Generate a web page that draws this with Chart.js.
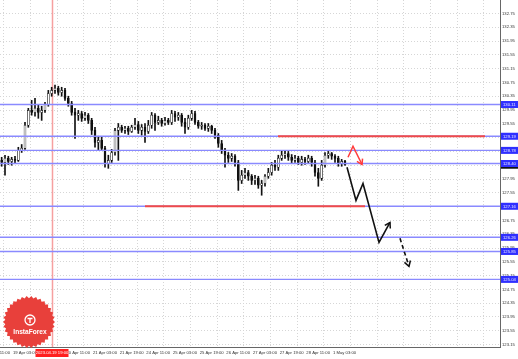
<!DOCTYPE html>
<html><head><meta charset="utf-8">
<script src="https://cdn.jsdelivr.net/npm/chart.js@4/dist/chart.umd.min.js"></script>
<style>html,body{margin:0;padding:0;background:#fff}canvas{display:block}</style>
</head><body><canvas id="c" width="518" height="359"></canvas>
<script>
// ---- data (2-hour candles) ----
const opens = [128.49,128.43,128.55,128.46,128.52,128.49,128.78,128.84,129.51,129.94,
129.88,130.00,129.88,129.94,130.11,130.43,130.52,130.58,130.46,130.52,
130.29,130.14,129.88,129.80,129.85,129.71,129.80,129.65,129.36,129.01,
129.07,128.84,128.40,128.49,128.72,129.36,129.45,129.36,129.42,129.33,
129.45,129.53,129.36,129.45,129.33,129.51,129.80,129.59,129.65,129.56,
129.65,129.59,129.85,129.74,129.80,129.59,129.45,129.71,129.85,129.59,
129.48,129.51,129.42,129.48,129.36,129.22,128.98,128.78,128.64,128.55,
128.61,128.43,127.91,128.06,128.14,128.03,127.91,127.97,127.77,127.82,
128.03,128.14,128.35,128.29,128.55,128.64,128.69,128.58,128.49,128.55,
128.43,128.52,128.46,128.55,128.43,128.14,127.97,128.35,128.64,128.69,
128.61,128.55,128.40,128.46];
const highs = [128.58,128.64,128.61,128.58,128.61,128.87,128.95,129.59,130.00,130.23,
130.29,130.11,130.06,130.17,130.52,130.61,130.67,130.64,130.61,130.58,
130.35,130.20,130.00,129.94,129.91,129.88,129.85,129.71,129.45,129.19,
129.16,128.90,128.64,128.81,129.42,129.56,129.51,129.48,129.48,129.51,
129.71,129.62,129.53,129.56,129.65,129.88,129.85,129.77,129.71,129.74,
129.71,129.94,129.91,129.88,129.85,129.71,129.80,129.94,129.91,129.65,
129.59,129.56,129.56,129.51,129.42,129.27,129.07,128.84,128.72,128.69,
128.66,128.49,128.20,128.26,128.20,128.08,128.06,128.03,127.91,128.08,
128.26,128.43,128.49,128.64,128.78,128.78,128.75,128.66,128.64,128.61,
128.61,128.58,128.64,128.61,128.49,128.26,128.49,128.72,128.75,128.72,
128.66,128.61,128.52,128.49];
const lows = [128.32,128.06,128.37,128.35,128.40,128.46,128.72,128.81,129.45,129.80,
129.77,129.71,129.65,129.88,130.06,130.35,130.43,130.38,130.35,130.23,
130.06,129.80,129.13,129.65,129.62,129.65,129.56,129.24,128.87,128.78,
128.78,128.29,128.26,128.43,128.64,128.49,129.30,129.27,129.24,129.30,
129.39,129.27,129.22,129.01,129.27,129.42,129.36,129.53,129.48,129.51,
129.53,129.53,129.62,129.65,129.48,129.27,129.39,129.65,129.53,129.42,
129.39,129.36,129.33,129.27,129.13,128.87,128.69,128.29,128.43,128.46,
128.32,127.62,127.82,127.97,127.91,127.79,127.79,127.68,127.48,127.74,
127.97,128.06,128.20,128.20,128.49,128.55,128.49,128.40,128.43,128.37,
128.35,128.37,128.40,128.32,128.03,127.74,127.91,128.29,128.55,128.52,
128.43,128.32,128.32,128.35];
const closes = [128.43,128.55,128.46,128.52,128.49,128.78,128.84,129.51,129.94,129.88,
130.00,129.88,129.94,130.11,130.43,130.52,130.58,130.46,130.52,130.29,
130.14,129.88,129.80,129.85,129.71,129.80,129.65,129.36,129.01,129.07,
128.84,128.40,128.49,128.72,129.36,129.45,129.36,129.42,129.33,129.45,
129.53,129.36,129.45,129.33,129.51,129.80,129.59,129.65,129.56,129.65,
129.59,129.85,129.74,129.80,129.59,129.45,129.71,129.85,129.59,129.48,
129.51,129.42,129.48,129.36,129.22,128.98,128.78,128.64,128.55,128.61,
128.43,127.91,128.06,128.14,128.03,127.91,127.97,127.77,127.82,128.03,
128.14,128.35,128.29,128.55,128.64,128.69,128.58,128.49,128.55,128.43,
128.52,128.46,128.55,128.43,128.14,127.97,128.35,128.64,128.69,128.61,
128.55,128.40,128.46,128.35];

const timeLabels = ["18 Apr 11:00","19 Apr 03:00","19 Apr 19:00","20 Apr 11:00","21 Apr 03:00",
"21 Apr 19:00","24 Apr 11:00","25 Apr 03:00","25 Apr 19:00","26 Apr 11:00","27 Apr 03:00",
"27 Apr 19:00","28 Apr 11:00","1 May 03:00"];
const priceTicks = [132.75,132.35,131.95,131.55,131.15,130.75,130.35,129.95,129.55,129.15,
128.75,128.35,127.95,127.55,127.15,126.75,126.35,125.95,125.55,125.15,124.75,124.35,123.95,123.55,123.15];

const blueLevels = [130.11,129.19,128.78,128.40,127.16,126.26,125.85,125.04];
const redLevelPrices = [129.19,127.16];
const redLevelFrom = [82.9,43];
const redLevelTo = [145,109];
const vlineIndex = 15.1;
const vlineLabel = "2023.04.19 19:00";

const redArrowX = [103.9,105.4,108.1];
const redArrowY = [128.58,128.90,128.37];
const blackArrowX = [103.6,106.3,108.4,113.2,116.5];
const blackArrowY = [128.29,127.33,127.82,126.11,126.69];
const dashArrowX = [119.5,122.2];
const dashArrowY = [126.23,125.42];

// ---- chart ----
const FONT = '"Liberation Sans", Arial, sans-serif';
const N = opens.length;
const idx = opens.map((_, i) => i);
const wickData = idx.map(i => ({x: i, y: [lows[i], highs[i]]}));
const bodyData = idx.map(i => ({x: i, y: [opens[i], closes[i]]}));
const pts = (xs, ys) => xs.map((x, i) => ({x, y: ys[i]}));

const datasets = [
  {type: 'bar', data: wickData, backgroundColor: '#111', barThickness: 1, grouped: false, order: 5},
  {type: 'bar', data: bodyData, grouped: false, order: 4, barThickness: 2, borderWidth: 0.6,
   borderColor: '#111', borderSkipped: false,
   backgroundColor: c => (closes[c.dataIndex] >= opens[c.dataIndex] ? '#fff' : '#111')}
];
blueLevels.forEach(p => datasets.push({type: 'line', data: [{x: -0.5, y: p}, {x: 149.5, y: p}],
  borderColor: '#8a8aff', borderWidth: 1.4, pointRadius: 0, order: 3}));
redLevelPrices.forEach((p, k) => datasets.push({type: 'line',
  data: [{x: redLevelFrom[k], y: p}, {x: redLevelTo[k], y: p}],
  borderColor: '#f04a4a', borderWidth: 2, pointRadius: 0, order: 2}));
datasets.push({type: 'line', data: pts(redArrowX, redArrowY), borderColor: '#ff3b3b', borderWidth: 1.5, pointRadius: 0, order: 1, arrow: '#ff3b3b'});
datasets.push({type: 'line', data: pts(blackArrowX, blackArrowY), borderColor: '#111', borderWidth: 1.6, pointRadius: 0, order: 1, arrow: '#111'});
datasets.push({type: 'line', data: pts(dashArrowX, dashArrowY), borderColor: '#111', borderWidth: 1.6, borderDash: [4, 3], pointRadius: 0, order: 1, arrow: '#111'});

function head(ctx, a, b, color) {
  const ang = Math.atan2(b.y - a.y, b.x - a.x), L = 6;
  ctx.save(); ctx.strokeStyle = color; ctx.lineWidth = 1.5; ctx.setLineDash([]);
  ctx.beginPath();
  ctx.moveTo(b.x - L * Math.cos(ang - 0.55), b.y - L * Math.sin(ang - 0.55));
  ctx.lineTo(b.x, b.y);
  ctx.lineTo(b.x - L * Math.cos(ang + 0.55), b.y - L * Math.sin(ang + 0.55));
  ctx.stroke(); ctx.restore();
}

const overlay = {
  id: 'overlay',
  beforeDatasetsDraw(chart) {
    const {ctx, chartArea: a, scales: {x}} = chart;
    const px = Math.round(x.getPixelForValue(vlineIndex)) + 0.5;
    ctx.save(); ctx.strokeStyle = '#f6a0a0'; ctx.lineWidth = 1.5;
    ctx.beginPath(); ctx.moveTo(px, a.top); ctx.lineTo(px, a.bottom); ctx.stroke(); ctx.restore();
  },
  afterDatasetsDraw(chart) {
    const {ctx} = chart;
    chart.data.datasets.forEach((ds, i) => {
      if (!ds.arrow) return;
      const m = chart.getDatasetMeta(i).data;
      head(ctx, m[m.length - 2], m[m.length - 1], ds.arrow);
    });
  },
  afterDraw(chart) {
    const {ctx, chartArea: a, scales: {x, y}} = chart;
    ctx.save();
    ctx.font = '4.2px ' + FONT; ctx.textBaseline = 'middle'; ctx.textAlign = 'left';
    const cy = y.getPixelForValue(closes[N - 1]);
    ctx.fillStyle = '#111'; ctx.fillRect(a.right + 1, cy - 3.5, 17, 7);
    blueLevels.forEach(p => {
      const py = y.getPixelForValue(p);
      ctx.fillStyle = '#2f2fff'; ctx.fillRect(a.right + 1, py - 3.5, 17, 7);
      ctx.fillStyle = '#e8e8ff'; ctx.fillText(p.toFixed(2), a.right + 3, py + 0.3);
    });
    const vx = x.getPixelForValue(vlineIndex);
    ctx.fillStyle = '#ff1f1f'; ctx.fillRect(vx - 16.5, a.bottom + 2, 33, 8);
    ctx.fillStyle = '#fff'; ctx.textAlign = 'center';
    ctx.fillText(vlineLabel, vx, a.bottom + 6.3);
    const lx = 29, ly = 322, R = 26, r = 23.8, n = 34;
    ctx.beginPath();
    for (let k = 0; k < 2 * n; k++) {
      const ang = k * Math.PI / n, rr = k % 2 ? r : R;
      ctx.lineTo(lx + rr * Math.cos(ang), ly + rr * Math.sin(ang));
    }
    ctx.closePath(); ctx.fillStyle = '#e8403b'; ctx.fill();
    ctx.beginPath(); ctx.arc(lx + 1, ly - 2, 5, 0, Math.PI * 2);
    ctx.strokeStyle = '#fff'; ctx.lineWidth = 1.3; ctx.stroke();
    ctx.beginPath(); ctx.moveTo(lx - 1.5, ly - 3.5); ctx.lineTo(lx + 3.5, ly - 3.5);
    ctx.moveTo(lx + 1, ly - 3.5); ctx.lineTo(lx + 1, ly + 1); ctx.stroke();
    ctx.fillStyle = '#fff'; ctx.font = 'bold 6.6px ' + FONT; ctx.textAlign = 'center';
    ctx.fillText('InstaForex', lx + 1, ly + 10);
    ctx.restore();
  }
};

const noPad = s => { s.paddingLeft = 0; s.paddingRight = 0; s.paddingTop = 0; s.paddingBottom = 0; };

new Chart(document.getElementById('c'), {
  type: 'bar',
  data: {datasets},
  plugins: [overlay],
  options: {
    responsive: false, animation: false, devicePixelRatio: 1,
    layout: {padding: 0},
    plugins: {legend: {display: false}, tooltip: {enabled: false}},
    scales: {
      x: {
        type: 'linear', min: -0.5, max: 149.5, offset: false,
        afterFit: s => { s.height = 12; noPad(s); },
        afterBuildTicks: s => { const t = []; for (let k = 0; k < 20; k++) t.push({value: -3.4 + 8 * k}); s.ticks = t; },
        ticks: {autoSkip: false, maxRotation: 0, align: 'start', labelOffset: -4, padding: 3,
          color: '#333', font: {size: 4.2, family: FONT},
          callback: (v, i) => timeLabels[i] || ''},
        grid: {color: '#d6d6d6', drawTicks: false, lineWidth: 1},
        border: {color: '#666', width: 1, dash: [1, 2]}
      },
      y: {
        position: 'right', min: 123.08, max: 133.14,
        afterFit: s => { s.width = 18; noPad(s); },
        afterBuildTicks: s => { s.ticks = priceTicks.map(v => ({value: v})); },
        ticks: {padding: 2, color: '#333', font: {size: 4.2, family: FONT},
          callback: v => v.toFixed(2)},
        grid: {color: '#d6d6d6', drawTicks: false, lineWidth: 1},
        border: {color: '#666', width: 1, dash: [1, 2]}
      }
    }
  }
});
</script></body></html>
